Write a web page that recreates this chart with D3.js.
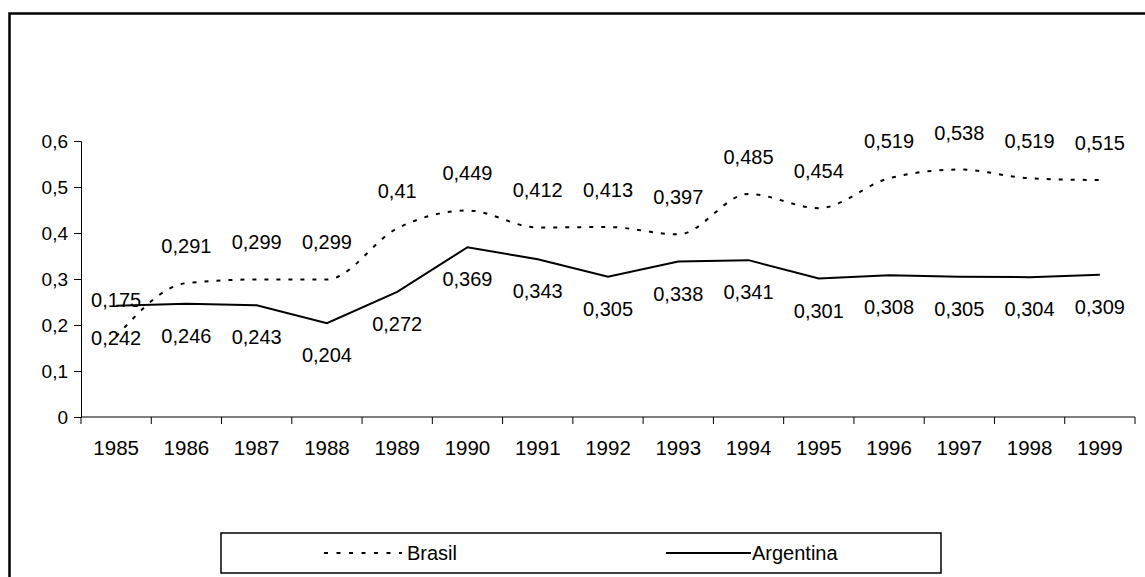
<!DOCTYPE html>
<html>
<head>
<meta charset="utf-8">
<script src="https://cdn.jsdelivr.net/npm/d3@7"></script>
<style>
    body { margin: 0; background: #fff; }
    svg { display: block; }
    text { font-family: "Liberation Sans", Arial, sans-serif; fill: #000; }
</style>
</head>
<body>
<div id="chart"></div>
<script>
"use strict";

var years = ["1985", "1986", "1987", "1988", "1989", "1990", "1991", "1992",
             "1993", "1994", "1995", "1996", "1997", "1998", "1999"];
var brasil = [0.175, 0.291, 0.299, 0.299, 0.41, 0.449, 0.412, 0.413,
              0.397, 0.485, 0.454, 0.519, 0.538, 0.519, 0.515];
var argentina = [0.242, 0.246, 0.243, 0.204, 0.272, 0.369, 0.343, 0.305,
                 0.338, 0.341, 0.301, 0.308, 0.305, 0.304, 0.309];
var yTicks = [0, 0.1, 0.2, 0.3, 0.4, 0.5, 0.6];

var width = 1145;
var height = 577;
var fmt = function(v) { return String(v).replace(".", ","); };

var svg = d3.select("#chart")
    .append("svg")
    .attr("width", width)
    .attr("height", height);

// outer frame (runs off the right and bottom edges)
svg.append("rect")
    .attr("x", 9.5)
    .attr("y", 13.5)
    .attr("width", 1300)
    .attr("height", 800)
    .attr("fill", "none")
    .attr("stroke", "#000")
    .attr("stroke-width", 2.5);

var x = d3.scaleBand()
    .domain(years)
    .range([81, 1135]);

var y = d3.scaleLinear()
    .domain([0, 0.6])
    .range([417, 141]);

// y axis
var yAxis = svg.append("g")
    .attr("transform", "translate(81,0)")
    .call(d3.axisLeft(y).tickValues(yTicks).tickSize(7).tickPadding(6)
          .tickFormat(fmt));
yAxis.selectAll("text").style("font-size", "19px");

// x axis, ticks between categories
var xAxis = svg.append("g")
    .attr("transform", "translate(0,417)");
xAxis.append("line")
    .attr("x1", 81).attr("x2", 1135)
    .attr("stroke", "#000");
xAxis.selectAll("line.tick")
    .data(years.concat([null]))
    .enter()
    .append("line")
    .attr("class", "tick")
    .attr("x1", function(d, i) { return 81 + i * x.step(); })
    .attr("x2", function(d, i) { return 81 + i * x.step(); })
    .attr("y1", 0)
    .attr("y2", 7)
    .attr("stroke", "#000");
xAxis.selectAll("text")
    .data(years)
    .enter()
    .append("text")
    .attr("x", function(d) { return x(d) + x.bandwidth() / 2; })
    .attr("y", 38)
    .attr("text-anchor", "middle")
    .style("font-size", "20.5px")
    .text(function(d) { return d; });
svg.selectAll(".domain").attr("stroke", "#000");
svg.selectAll(".tick line").attr("stroke", "#000");

var cx = function(d, i) { return x(years[i]) + x.bandwidth() / 2; };

var brasilLine = d3.line()
    .x(cx)
    .y(function(d) { return y(d); })
    .curve(d3.curveMonotoneX);

var argLine = d3.line()
    .x(cx)
    .y(function(d) { return y(d); });

svg.append("path")
    .datum(brasil)
    .attr("d", brasilLine)
    .attr("fill", "none")
    .attr("stroke", "#000")
    .attr("stroke-width", 2)
    .attr("stroke-dasharray", "4,8");

svg.append("path")
    .datum(argentina)
    .attr("d", argLine)
    .attr("fill", "none")
    .attr("stroke", "#000")
    .attr("stroke-width", 2);

// data labels: Brasil above, Argentina below
svg.append("g").selectAll("text")
    .data(brasil)
    .enter()
    .append("text")
    .attr("x", cx)
    .attr("y", function(d) { return y(d) - 30; })
    .attr("text-anchor", "middle")
    .style("font-size", "20px")
    .text(fmt);

svg.append("g").selectAll("text")
    .data(argentina)
    .enter()
    .append("text")
    .attr("x", cx)
    .attr("y", function(d) { return y(d) + 39; })
    .attr("text-anchor", "middle")
    .style("font-size", "20px")
    .text(fmt);

// legend
var legend = svg.append("g");
legend.append("rect")
    .attr("x", 221)
    .attr("y", 533)
    .attr("width", 720)
    .attr("height", 40)
    .attr("fill", "#fff")
    .attr("stroke", "#000")
    .attr("stroke-width", 1.5);
legend.append("line")
    .attr("x1", 324).attr("x2", 402)
    .attr("y1", 553).attr("y2", 553)
    .attr("stroke", "#000")
    .attr("stroke-width", 2)
    .attr("stroke-dasharray", "4,8.5");
legend.append("text")
    .attr("x", 407).attr("y", 560)
    .style("font-size", "20px")
    .text("Brasil");
legend.append("line")
    .attr("x1", 666).attr("x2", 751)
    .attr("y1", 553).attr("y2", 553)
    .attr("stroke", "#000")
    .attr("stroke-width", 2);
legend.append("text")
    .attr("x", 752).attr("y", 560)
    .style("font-size", "20px")
    .text("Argentina");
</script>
</body>
</html>
